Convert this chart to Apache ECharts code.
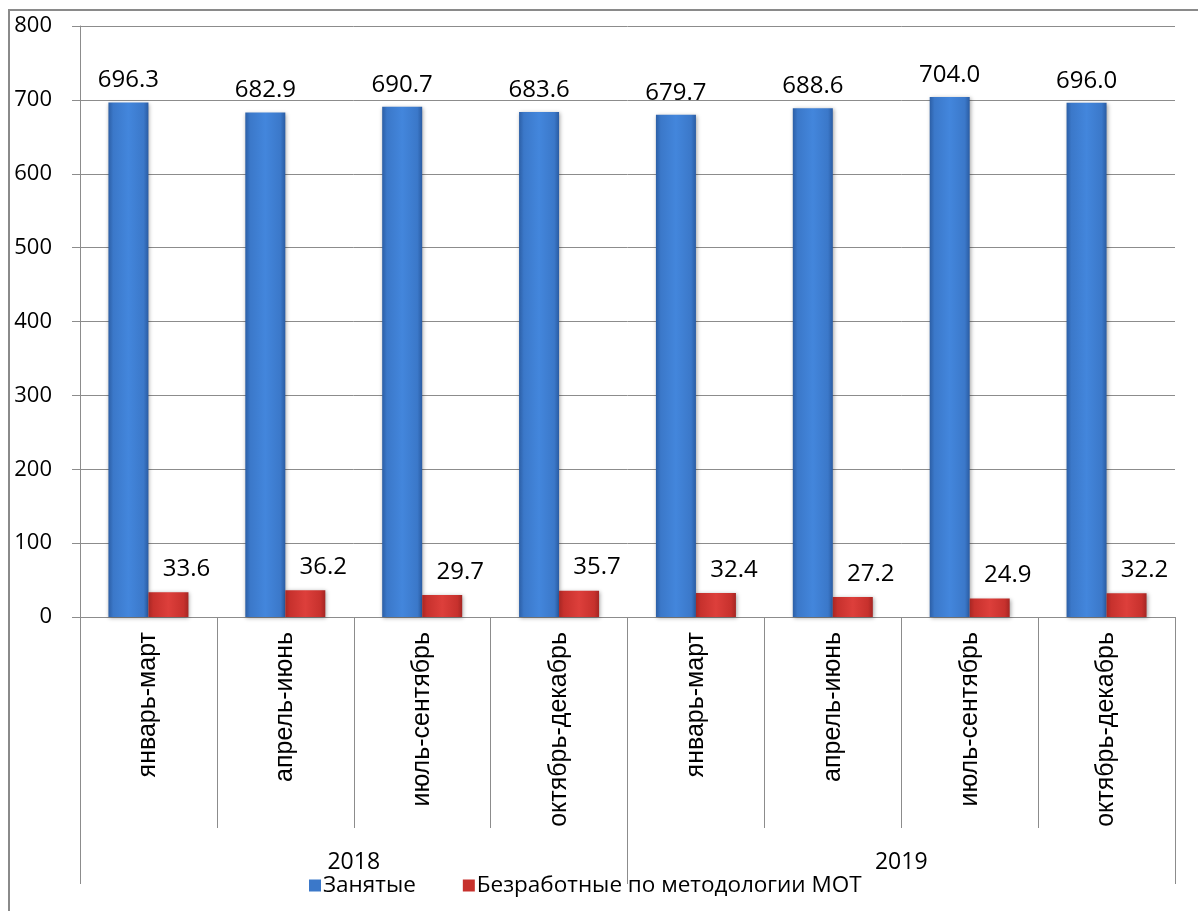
<!DOCTYPE html>
<html>
<head>
<meta charset="utf-8">
<style>
html,body{margin:0;padding:0;background:#fff;}
#chart{width:1198px;height:911px;}
</style>
<script src="https://cdn.jsdelivr.net/npm/echarts@6/dist/echarts.min.js"></script>
</head>
<body>
<div id="chart"></div>
<script>
const quarters = ['январь-март','апрель-июнь','июль-сентябрь','октябрь-декабрь','январь-март','апрель-июнь','июль-сентябрь','октябрь-декабрь'];
const years = ['2018','2019'];
const employed = [696.3, 682.9, 690.7, 683.6, 679.7, 688.6, 704.0, 696.0];
const unemployed = [33.6, 36.2, 29.7, 35.7, 32.4, 27.2, 24.9, 32.2];
const seriesNames = ['Занятые','Безработные по методологии МОТ'];

const chart = echarts.init(document.getElementById('chart'));
const grayLine = '#8c8c8c';
const blueGrad = new echarts.graphic.LinearGradient(0,0,1,0,[
  {offset:0,color:'#2c5fa6'},{offset:0.12,color:'#3b78c9'},{offset:0.5,color:'#4386dc'},{offset:0.88,color:'#3b78c9'},{offset:1,color:'#2a5ca3'}]);
const redGrad = new echarts.graphic.LinearGradient(0,0,1,0,[
  {offset:0,color:'#a82724'},{offset:0.12,color:'#c7312d'},{offset:0.5,color:'#dd3f3b'},{offset:0.88,color:'#c7312d'},{offset:1,color:'#a52623'}]);

chart.setOption({
  animation:false,
  graphic:[{type:'rect',shape:{x:9,y:10,width:1200,height:1000},style:{fill:'none',stroke:'#8a8a8a',lineWidth:2},silent:true}],
  grid:{left:80,right:23,top:26,bottom:294,containLabel:false},
  legend:{
    bottom:9,left:304,itemGap:47,itemWidth:12,itemHeight:12,icon:'rect',
    textStyle:{fontFamily:'Open Sans',fontSize:22.5,color:'#000',padding:[0,0,0,-3]},
    data:[{name:seriesNames[0],itemStyle:{color:'#3b78c9'}},{name:seriesNames[1],itemStyle:{color:'#c7312d'}}]
  },
  xAxis:[{
    type:'category',data:quarters,position:'bottom',
    axisLine:{show:true,lineStyle:{color:grayLine,width:1}},
    axisTick:{show:true,interval:0,length:211,lineStyle:{color:grayLine}},
    axisLabel:{interval:0,rotate:90,margin:15,fontFamily:'Liberation Sans',fontSize:25,color:'#000'}
  },{
    type:'category',data:years,position:'bottom',
    axisLine:{show:false},
    axisTick:{show:true,interval:0,length:267,lineStyle:{color:grayLine}},
    axisLabel:{interval:0,margin:234,fontFamily:'Open Sans',fontSize:23,color:'#000'}
  }],
  yAxis:{
    type:'value',min:0,max:800,interval:100,
    axisLine:{show:true,lineStyle:{color:grayLine}},
    axisTick:{show:true,length:8,lineStyle:{color:grayLine}},
    axisLabel:{margin:28,fontFamily:'Open Sans',fontSize:22,color:'#000'},
    splitLine:{lineStyle:{color:grayLine,width:1}}
  },
  series:[{
    name:seriesNames[0],type:'bar',xAxisIndex:0,data:employed,barWidth:40,barGap:'0%',
    itemStyle:{color:blueGrad,shadowColor:'rgba(0,0,0,0.35)',shadowBlur:4,shadowOffsetX:1,shadowOffsetY:1},
    label:{show:true,position:'top',distance:10,formatter:p=>p.value.toFixed(1),fontFamily:'Open Sans',fontSize:24,color:'#000'}
  },{
    name:seriesNames[1],type:'bar',xAxisIndex:0,data:unemployed,barWidth:40,barGap:'0%',
    itemStyle:{color:redGrad,shadowColor:'rgba(0,0,0,0.35)',shadowBlur:4,shadowOffsetX:1,shadowOffsetY:1},
    label:{show:true,position:'top',distance:11,offset:[18,0],formatter:p=>p.value.toFixed(1),fontFamily:'Open Sans',fontSize:24,color:'#000'}
  }]
});
</script>
</body>
</html>
